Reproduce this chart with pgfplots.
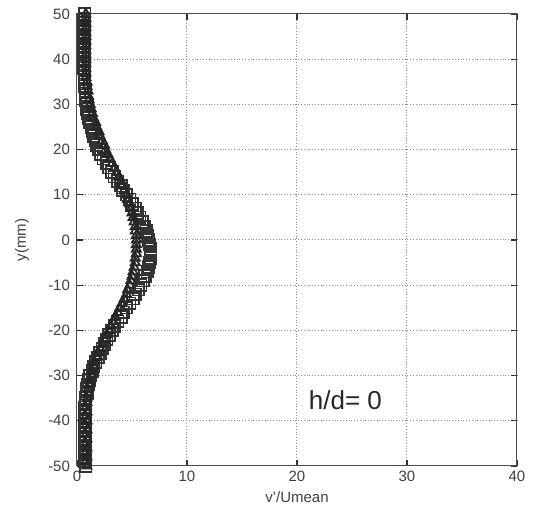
\documentclass[border=0pt]{standalone}
\usepackage{pgfplots}
\pgfplotsset{compat=1.18}
\usepackage{fontspec}
\setmainfont{Liberation Sans}

\begin{document}
\begin{tikzpicture}
\useasboundingbox (-38.5pt,-20.5pt) rectangle (231.5pt,233pt);
\begin{axis}[
    at={(0pt,0pt)}, anchor=south west,
    scale only axis,
    width=220pt, height=226pt,
    xmin=0, xmax=40, ymin=-50, ymax=50,
    xtick={0,10,20,30,40},
    ytick={-50,-40,-30,-20,-10,0,10,20,30,40,50},
    tick align=inside,
    major tick length=3pt,
    axis line style={draw=black!70, line width=0.5pt},
    tick style={draw=black!80, line width=0.6pt},
    grid=major,
    major grid style={densely dotted, draw=black!45, line width=0.5pt},
    ticklabel style={font=\fontsize{7.5}{9}\selectfont, text=black!75},
    xticklabel style={yshift=1pt},
    /pgf/number format/assume math mode=true,
    xlabel={v'/Umean},
    ylabel={y(mm)},
    label style={font=\fontsize{7.5}{9}\selectfont, text=black!75},
    xlabel style={at={(0.5,0)}, anchor=center, yshift=-15.5pt},
    ylabel style={at={(0,0.5)}, anchor=center, yshift=27.5pt},
    clip=false,
]
% squares
\addplot[only marks, mark=square, mark size=2.9pt, draw=black!80, line width=0.9pt] coordinates {
(0.7,50)(0.7,49)(0.6,48)(0.7,47)(0.6,46)(0.7,45)(0.6,44)(0.7,43)(0.6,42)(0.7,41)
(0.6,40)(0.7,39)(0.6,38)(0.7,37)(0.7,36)(0.7,35)(0.7,34)(0.8,33)(0.8,32)(0.8,31)
(0.9,30)(0.9,29)(1.0,28)(1.1,27)(1.2,26)(1.3,25)(1.4,24)(1.5,23)(1.7,22)(1.8,21)
(2.0,20)(2.2,19)(2.4,18)(2.7,17)(2.9,16)(3.2,15)(3.4,14)(3.7,13)(4.0,12)(4.2,11)
(4.5,10)(4.8,9)(5.0,8)(5.3,7)(5.5,6)(5.7,5)(5.9,4)(6.1,3)(6.3,2)(6.4,1)
(6.5,0)(6.6,-1)(6.7,-2)(6.7,-3)(6.7,-4)(6.6,-5)(6.5,-6)(6.4,-7)(6.2,-8)(6.0,-9)
(5.8,-10)(5.6,-11)(5.3,-12)(5.1,-13)(4.8,-14)(4.5,-15)(4.2,-16)(4.0,-17)(3.7,-18)(3.4,-19)
(3.2,-20)(2.9,-21)(2.7,-22)(2.5,-23)(2.3,-24)(2.1,-25)(1.9,-26)(1.7,-27)(1.5,-28)(1.4,-29)
(1.2,-30)(1.1,-31)(1.0,-32)(0.9,-33)(0.9,-34)(0.8,-35)(0.8,-36)(0.7,-37)(0.8,-38)(0.7,-39)
(0.8,-40)(0.7,-41)(0.8,-42)(0.7,-43)(0.8,-44)(0.7,-45)(0.8,-46)(0.7,-47)(0.8,-48)(0.7,-49)
(0.8,-50)
};
% triangles
\addplot[only marks, mark=triangle, mark size=2.6pt, draw=black!85, line width=0.9pt] coordinates {
(0.8,50)(0.8,49)(0.8,48)(0.8,47)(0.8,46)(0.8,45)(0.8,44)(0.8,43)(0.8,42)(0.8,41)
(0.8,40)(0.8,39)(0.8,38)(0.8,37)(0.8,36)(0.9,35)(0.9,34)(1.0,33)(1.0,32)(1.1,31)
(1.2,30)(1.3,29)(1.4,28)(1.5,27)(1.7,26)(1.8,25)(2.0,24)(2.1,23)(2.3,22)(2.5,21)
(2.6,20)(2.8,19)(3.0,18)(3.2,17)(3.4,16)(3.6,15)(3.8,14)(4.0,13)(4.1,12)(4.3,11)
(4.5,10)(4.6,9)(4.8,8)(4.9,7)(5.0,6)(5.1,5)(5.2,4)(5.3,3)(5.3,2)(5.4,1)
(5.4,0)(5.4,-1)(5.4,-2)(5.4,-3)(5.3,-4)(5.3,-5)(5.2,-6)(5.1,-7)(5.0,-8)(4.9,-9)
(4.8,-10)(4.6,-11)(4.5,-12)(4.3,-13)(4.1,-14)(3.9,-15)(3.7,-16)(3.5,-17)(3.3,-18)(3.1,-19)
(2.9,-20)(2.7,-21)(2.5,-22)(2.3,-23)(2.1,-24)(1.9,-25)(1.8,-26)(1.6,-27)(1.5,-28)(1.4,-29)
(1.3,-30)(1.2,-31)(1.1,-32)(1.0,-33)(1.0,-34)(0.9,-35)(0.9,-36)(0.8,-37)(0.9,-38)(0.8,-39)
(0.9,-40)(0.8,-41)(0.9,-42)(0.8,-43)(0.9,-44)(0.8,-45)(0.9,-46)(0.8,-47)(0.9,-48)(0.8,-49)
(0.9,-50)
};
\node[font=\fontsize{13}{15}\selectfont, text=black!85] at (axis cs:24.4,-35.4) {h/d= 0};
\end{axis}
\end{tikzpicture}
\end{document}
